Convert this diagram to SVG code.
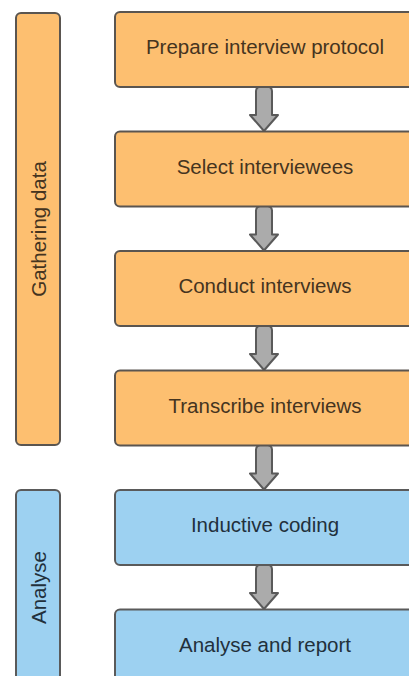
<svg xmlns="http://www.w3.org/2000/svg" width="409" height="676" viewBox="0 0 409 676">
<style>
.o{fill:#fdbf70;stroke:#5a5550;stroke-width:2}
.b{fill:#9dd1f1;stroke:#5a5a5a;stroke-width:2}
.to{font-family:"Liberation Sans",Arial,sans-serif;font-size:20.5px;fill:#45341f;text-anchor:middle}
.tb{font-family:"Liberation Sans",Arial,sans-serif;font-size:20.5px;fill:#22303c;text-anchor:middle}
.ar{fill:#ababab;stroke:#5a5a5a;stroke-width:2;stroke-linejoin:round}
</style>
<rect width="409" height="676" fill="#ffffff"/>
<g id="phase-gathering">
<rect class="o" x="16" y="13" width="44" height="432" rx="5"/>
<text class="to" transform="translate(45.5,229) rotate(-90)">Gathering data</text>
</g>
<g id="phase-analyse">
<rect class="b" x="16" y="490" width="44" height="200" rx="5"/>
<text class="tb" transform="translate(45.5,587.5) rotate(-90)">Analyse</text>
</g>
<g id="connectors">
<path class="ar" transform="translate(264,131)" d="M-8,-16 L-8,-40 Q-8,-45 0,-45 Q8,-45 8,-40 L8,-16 L14,-16 L0,0 L-14,-16 Z"/>
<path class="ar" transform="translate(264,250.5)" d="M-8,-16 L-8,-40 Q-8,-45 0,-45 Q8,-45 8,-40 L8,-16 L14,-16 L0,0 L-14,-16 Z"/>
<path class="ar" transform="translate(264,370)" d="M-8,-16 L-8,-40 Q-8,-45 0,-45 Q8,-45 8,-40 L8,-16 L14,-16 L0,0 L-14,-16 Z"/>
<path class="ar" transform="translate(264,489.5)" d="M-8,-16 L-8,-40 Q-8,-45 0,-45 Q8,-45 8,-40 L8,-16 L14,-16 L0,0 L-14,-16 Z"/>
<path class="ar" transform="translate(264,609)" d="M-8,-16 L-8,-40 Q-8,-45 0,-45 Q8,-45 8,-40 L8,-16 L14,-16 L0,0 L-14,-16 Z"/>
</g>
<g id="prepare">
<rect class="o" x="115" y="12" width="302" height="75" rx="5"/>
<text class="to" x="265" y="54">Prepare interview protocol</text>
</g>
<g id="select">
<rect class="o" x="115" y="131.5" width="302" height="75" rx="5"/>
<text class="to" x="265" y="173.5">Select interviewees</text>
</g>
<g id="conduct">
<rect class="o" x="115" y="251" width="302" height="75" rx="5"/>
<text class="to" x="265" y="293">Conduct interviews</text>
</g>
<g id="transcribe">
<rect class="o" x="115" y="370.5" width="302" height="75" rx="5"/>
<text class="to" x="265" y="412.5">Transcribe interviews</text>
</g>
<g id="inductive">
<rect class="b" x="115" y="490" width="302" height="75" rx="5"/>
<text class="tb" x="265" y="532">Inductive coding</text>
</g>
<g id="report">
<rect class="b" x="115" y="609.5" width="302" height="75" rx="5"/>
<text class="tb" x="265" y="651.5">Analyse and report</text>
</g>
</svg>
